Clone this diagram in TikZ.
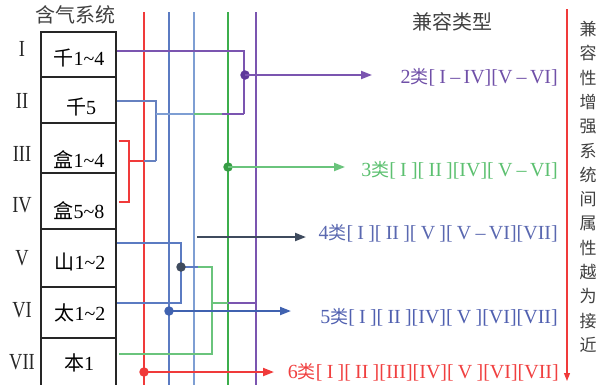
\documentclass[tikz,border=0pt]{standalone}
\usepackage{fontspec}
\setmainfont{Liberation Serif}
\newfontfamily\cjk{Noto Sans CJK SC}
\newfontfamily\romf[FakeStretch=0.8]{Liberation Serif}
\usetikzlibrary{arrows.meta,calc}
\definecolor{cred}{HTML}{F03A3A}
\definecolor{cgreen}{HTML}{3CAE4C}
\definecolor{cgreenl}{HTML}{6AC47C}
\definecolor{cblueA}{HTML}{5B7BC2}
\definecolor{cblueB}{HTML}{7E9ED3}
\definecolor{cpurp}{HTML}{7B55B0}
\definecolor{cpurpd}{HTML}{5E3A9A}
\definecolor{cslate}{HTML}{3F4B5E}
\definecolor{cbluear}{HTML}{4062B0}
\definecolor{tpurp}{HTML}{7050A8}
\definecolor{tgreen}{HTML}{5CC070}
\definecolor{tslate}{HTML}{5A68B0}
\definecolor{tblue}{HTML}{5060B0}
\definecolor{tred}{HTML}{F04040}
\definecolor{tgray}{HTML}{404040}
\newcommand{\lei}[1]{{\cjk\fontsize{18}{18}\selectfont #1}}
\newcommand{\gp}{\kern4.2pt}
\tikzset{
  cell/.style={draw=black!85, line width=1.1pt, minimum width=75pt, inner sep=0pt},
  celltext/.style={font=\fontsize{20}{20}\selectfont, inner sep=0pt},
  rom/.style={font=\romf\fontsize{23}{23}\selectfont, inner sep=0pt, text=black!85},
  vline/.style={line width=1.2pt},
  conn/.style={line width=1.2pt},
  arr/.style={line width=2pt, -{Triangle[length=11pt,width=8pt]}},
  dot/.style={circle, inner sep=0pt, minimum size=9.5pt},
  lab/.style={anchor=east, inner sep=0pt, font=\fontsize{20}{20}\selectfont},
  vchar/.style={inner sep=0pt, text=tgray, font=\cjk\fontsize{17}{17}\selectfont},
}
\begin{document}
\begin{tikzpicture}[x=1pt,y=-1pt]
\useasboundingbox (0,0) rectangle (612,384);
% title texts
\node[inner sep=0pt, text=tgray, font=\cjk\fontsize{20}{20}\selectfont] (t1) at (75,15) {含气系统};
\node[inner sep=0pt, text=tgray, font=\cjk\fontsize{20}{20}\selectfont] (t2) at (452,22) {兼容类型};
% boxes
\node[cell, minimum height=45pt] (b1) at (78.5,54.5) {};
\node[cell, minimum height=46pt] (b2) at (78.5,100) {};
\node[cell, minimum height=50pt] (b3) at (78.5,148) {};
\node[cell, minimum height=56pt] (b4) at (78.5,201) {};
\node[cell, minimum height=58pt] (b5) at (78.5,258) {};
\node[cell, minimum height=51pt] (b6) at (78.5,312.5) {};
\node[cell, minimum height=52pt] (b7) at (78.5,364) {};
\node[celltext] (x1) at (79,58) {{\cjk 千}1\textasciitilde4};
\node[celltext] (x2) at (81,107) {{\cjk 千}5};
\node[celltext] (x3) at (79,160) {{\cjk 盒}1\textasciitilde4};
\node[celltext] (x4) at (79,211) {{\cjk 盒}5\textasciitilde8};
\node[celltext] (x5) at (80,262) {{\cjk 山}1\textasciitilde2};
\node[celltext] (x6) at (80,313) {{\cjk 太}1\textasciitilde2};
\node[celltext] (x7) at (79,363) {{\cjk 本}1};
% roman numerals
\node[rom] (r1) at (22,49) {I};
\node[rom] (r2) at (22,101) {II};
\node[rom] (r3) at (22,154) {III};
\node[rom] (r4) at (22,205) {IV};
\node[rom] (r5) at (22,258) {V};
\node[rom] (r6) at (22,310) {VI};
\node[rom] (r7) at (22,362) {VII};
% vertical bus lines
\coordinate (vR) at (144,12);  \coordinate (vRb) at (144,386);
\coordinate (vB1) at (169,12); \coordinate (vB1b) at (169,386);
\coordinate (vB2) at (194,12); \coordinate (vB2b) at (194,386);
\coordinate (vG) at (228,12);  \coordinate (vGb) at (228,386);
\coordinate (vP) at (256,12);  \coordinate (vPb) at (256,386);
\draw[vline, cred] (vR) -- (vRb);
\draw[vline, cblueA] (vB1) -- (vB1b);
\draw[vline, cblueB] (vB2) -- (vB2b);
\draw[vline, cgreen] (vG) -- (vGb);
\draw[vline, cpurp] (vP) -- (vPb);
% I
\coordinate (p1) at (244,51); \coordinate (p2) at (244,114);
\draw[conn, cpurp] (b1.east|-p1) -- (p1) -- (p2);
% II
\coordinate (q1) at (156,101); \coordinate (q2) at (156,161); \coordinate (q3) at (156,114);
\coordinate (q4) at (194,114); \coordinate (q5) at (222,114);
\draw[conn, cbluear!80] (b2.east|-q1) -- (q1) -- (q2);
\draw[conn, cblueB] (q3) -- (q4);
\draw[conn, cgreenl] (q4) -- (q5);
\draw[conn, cpurp] (q5) -- (p2);
% III-IV
\coordinate (s1) at (129,141); \coordinate (s2) at (129,202); \coordinate (s3) at (129,161);
\coordinate (s4) at (144,161);
\draw[conn, cred] ([xshift=2pt]b3.east|-s1) -- (s1) -- (s2) -- ([xshift=2pt]b4.east|-s2);
\draw[conn, cred] (s3) -- (s4);
\draw[conn, cbluear!80] (s4) -- (q2);
% V-VI
\coordinate (u1) at (181,243); \coordinate (u2) at (181,303); \coordinate (u3) at (181,267);
\coordinate (u4) at (198,267); \coordinate (u5) at (212,267); \coordinate (u6) at (212,354);
\coordinate (u7) at (212,303); \coordinate (u8) at (228,303); \coordinate (u9) at (256,303);
\draw[conn, cblueA] (b5.east|-u1) -- (u1) -- (u2) -- (b6.east|-u2);
\draw[conn, cblueA] (u3) -- (u4);
\draw[conn, cgreenl] (u4) -- (u5) -- (u6) -- ([xshift=2pt]b7.east|-u6);
\draw[conn, cgreenl] (u7) -- (u8);
\draw[conn, cpurp] (u8) -- (u9);
% arrows and dots
\node[dot, fill=cpurpd] (d2) at (245,75) {};
\coordinate (e2) at (372,75);
\draw[arr, cpurp] (d2.center) -- (e2);
\node[dot, fill=cgreen!90!black] (d3) at (228,167) {};
\coordinate (e3) at (345,167);
\draw[arr, cgreenl] (d3.center) -- (e3);
\coordinate (d4) at (197,237); \coordinate (e4) at (306,237);
\draw[arr, cslate] (d4) -- (e4);
\node[dot, fill=cslate] (dv) at (u3) {};
\node[dot, fill=cbluear] (d5) at (169,311) {};
\coordinate (e5) at (291,311);
\draw[arr, cbluear] (d5.center) -- (e5);
\node[dot, fill=cred] (d6) at (144,372) {};
\coordinate (e6) at (274,372);
\draw[arr, cred] (d6.center) -- (e6);
% labels
\node[lab, text=tpurp] (l2) at (558,77) {2\lei{类}[\gp I\gp –\,IV][V\gp –\,VI]};
\node[lab, text=tgreen] (l3) at (558,170) {3\lei{类}[\gp I\gp][\gp II\gp][IV][\gp V\gp –\,VI]};
\node[lab, text=tslate] (l4) at (558,233) {4\lei{类}[\gp I\gp][\gp II\gp][\gp V\gp][\gp V\gp –\,VI][VII]};
\node[lab, text=tblue] (l5) at (558,317) {5\lei{类}[\gp I\gp][\gp II\gp][IV][\gp V\gp][VI][VII]};
\node[lab, text=tred] (l6) at (559,372) {6\lei{类}[\gp I\gp][\gp II\gp][III][IV][\gp V\gp][VI][VII]};
% right arrow
\coordinate (ra) at (567,9); \coordinate (rb) at (567,381);
\draw[line width=1.1pt, cred, -{Triangle[length=8pt,width=6pt]}] (ra) -- (rb);
\foreach \c [count=\i from 0] in {兼,容,性,增,强,系,统,间,属,性,越,为,接,近} {
  \node[vchar] (v\i) at (588,{29+24.3*\i}) {\c};
}
\end{tikzpicture}
\end{document}
